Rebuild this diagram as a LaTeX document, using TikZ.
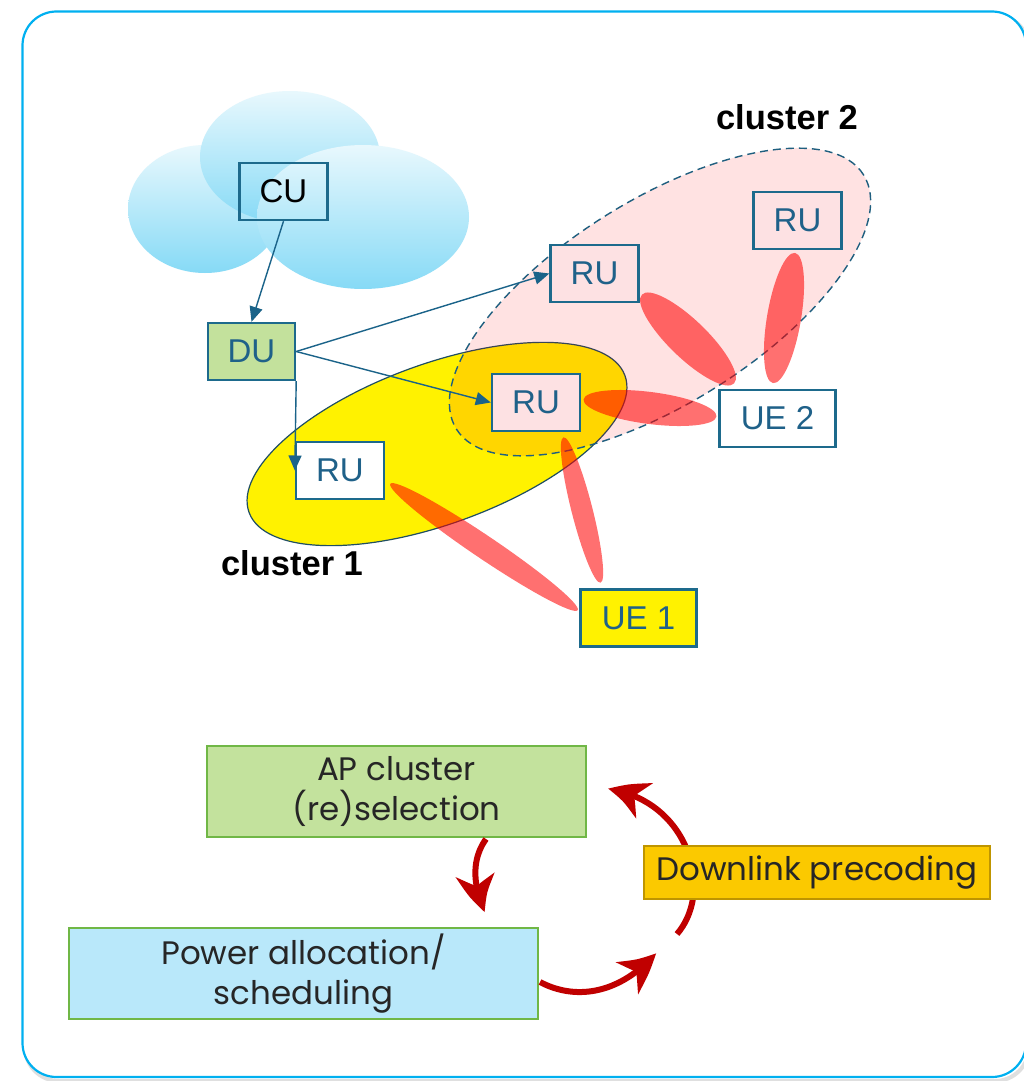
\documentclass[tikz,border=0pt]{standalone}
\usepackage{fontspec}
\setmainfont{Liberation Sans}
\newfontfamily\stagefont{Poppins}
\usetikzlibrary{arrows.meta,bending}

\definecolor{frameblue}{HTML}{00B0F0}
\definecolor{tealline}{HTML}{1D6A8C}
\definecolor{boxtext}{HTML}{1F6189}
\definecolor{linkteal}{HTML}{1A6389}
\definecolor{dugreen}{HTML}{C3E19C}
\definecolor{rupink}{HTML}{FDE1E3}
\definecolor{c1edge}{HTML}{1F4E63}
\definecolor{c2edge}{HTML}{1F5F7F}
\definecolor{cloudtop}{HTML}{E8F8FD}
\definecolor{cloudbottom}{HTML}{86DAF6}
\definecolor{apgreen}{HTML}{C3E29D}
\definecolor{stageedge}{HTML}{70B746}
\definecolor{pwblue}{HTML}{B9E8FA}
\definecolor{dlgold}{HTML}{FBC900}
\definecolor{dledge}{HTML}{BF9500}
\definecolor{cyclered}{HTML}{C00000}
\definecolor{textgray}{HTML}{262626}

\begin{document}
\begin{tikzpicture}[x=1pt,y=-1pt,
  unitbox/.style={draw=tealline, line width=2.4pt, inner sep=0pt,
    minimum width=88pt, minimum height=57pt, text=boxtext,
    font=\fontsize{33}{38}\selectfont},
  uebox/.style={unitbox, minimum width=116pt},
  link/.style={draw=linkteal, line width=1.4pt, -{Triangle[length=15pt,width=13pt]}},
  beam/.style={fill=red, fill opacity=0.56},
  cloudpart/.style={top color=cloudtop, bottom color=cloudbottom},
  clusterlabel/.style={font=\bfseries\fontsize{34.5}{40}\selectfont},
  stage/.style={draw=stageedge, line width=1.5pt, inner sep=0pt, align=center,
    text=textgray, font=\stagefont\fontsize{32.5}{39.5}\selectfont},
  cyc/.style={draw=cyclered, line width=6pt,
    -{Stealth[length=40pt,width=38pt,inset=12pt,bend]}},
]
\useasboundingbox (0,0) rectangle (1024,1081);
\clip (0,0) rectangle (1024,1081);

% outer frame with a soft shadow
\draw[black!25, line width=4pt, opacity=0.5, rounded corners=34pt] (25,15) rectangle (1029,1081);
\draw[frameblue, line width=2.2pt, rounded corners=34pt, fill=white] (22.5,11.5) rectangle (1026,1077);

% cloud
\path[cloudpart] (205,209) ellipse [x radius=77pt, y radius=64pt];
\path[cloudpart] (290,157) ellipse [x radius=90pt, y radius=66pt];
\path[cloudpart] (363,217) ellipse [x radius=106pt, y radius=72pt];

% clusters
\filldraw[fill=yellow, draw=c1edge, line width=1.2pt, rotate around={20:(437,444)}]
  (437,444) ellipse [x radius=200pt, y radius=80pt];
\fill[red, fill opacity=0.115, rotate around={32:(660,302)}]
  (660,302) ellipse [x radius=240pt, y radius=102pt];
\draw[c2edge, line width=1.4pt, dash pattern=on 8pt off 5pt, rotate around={32:(660,302)}]
  (660,302) ellipse [x radius=240pt, y radius=102pt];

% beams
\fill[beam, rotate around={-34:(484,547)}] (484,547) ellipse [x radius=113pt, y radius=11.5pt];
\fill[beam, rotate around={-75.7:(582,510)}] (582,510) ellipse [x radius=75pt, y radius=10.5pt];
\fill[beam, rotate around={-7.3:(650,408)}] (650,408) ellipse [x radius=67pt, y radius=16pt];
\fill[beam, rotate around={-44:(688,339)}] (688,339) ellipse [x radius=64pt, y radius=19pt];
\fill[beam, rotate around={80.4:(784,318)}] (784,318) ellipse [x radius=66pt, y radius=17pt];

% units
\node[unitbox, text=black] (cu) at (283.5,191.5) {CU};
\node[unitbox, fill=dugreen, minimum width=87pt] (du) at (251.5,351.5) {DU};
\node[unitbox, fill=rupink] (ru1) at (594.5,273.5) {RU};
\node[unitbox, fill=rupink] (ru2) at (536,402.5) {RU};
\node[unitbox, fill=white] (ru3) at (340,470.5) {RU};
\node[unitbox, fill=rupink] (ru4) at (797.5,220.5) {RU};
\node[uebox, fill=white] (ue2) at (777.5,418.5) {UE 2};
\node[uebox, fill=yellow] (ue1) at (638.5,618) {UE 1};

\node[clusterlabel] (lab2) at (787,117) {cluster 2};
\node[clusterlabel] (lab1) at (292,563) {cluster 1};

% fronthaul links
\draw[link] (cu.south) -- (du.north);
\draw[link] (du.east) -- (ru1.west);
\draw[link] (du.east) -- (ru2.west);
\draw[link] (du.south east) -- (ru3.west);

% processing cycle
\node[stage, fill=apgreen, minimum width=379pt, minimum height=91pt] (ap) at (396.5,791.5)
  {AP cluster\\(re)selection};
\node[stage, fill=pwblue, minimum width=469pt, minimum height=91pt] (pw) at (303.5,973.5)
  {Power allocation/\\scheduling};

\coordinate (a1s) at (486,839);
\coordinate (a1e) at (485,912);
\coordinate (a2s) at (540,982);
\coordinate (a2e) at (656,953);
\coordinate (a3s) at (677,934);
\coordinate (a3e) at (608,789);
\draw[cyc] (a1s) .. controls (471,860) and (473,886) .. (a1e);
\draw[cyc] (a2s) .. controls (578,1002) and (622,992) .. (a2e);
\draw[cyc] (a3s) .. controls (715,890) and (688,800) .. (a3e);

\node[stage, draw=dledge, line width=2.4pt, fill=dlgold, minimum width=346pt, minimum height=53pt] (dl)
  at (817,872.5) {Downlink precoding};
\end{tikzpicture}
\end{document}
